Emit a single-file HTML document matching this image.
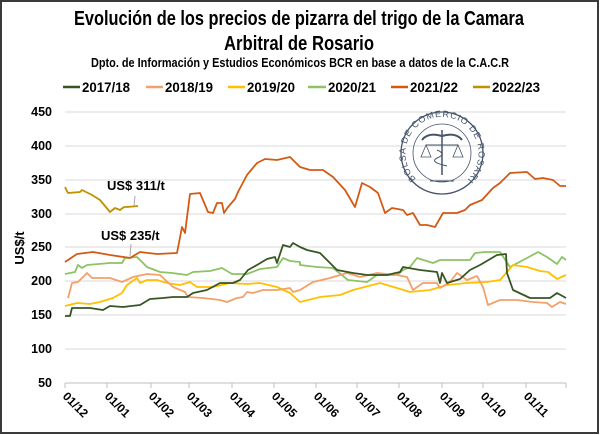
<!DOCTYPE html>
<html><head><meta charset="utf-8"><style>
html,body{margin:0;padding:0;background:#fff}
svg{display:block}
text{font-family:"Liberation Sans Narrow","Liberation Sans",sans-serif;font-weight:bold;fill:#000}
.s{font-family:"Liberation Sans",sans-serif}
</style></head><body>
<svg width="600" height="435" viewBox="0 0 600 435" xmlns="http://www.w3.org/2000/svg">
<rect x="1" y="1" width="597" height="432" fill="#fff" stroke="#3a3a3a" stroke-width="2"/>
<text x="299" y="25" font-size="20" text-anchor="middle" textLength="450" lengthAdjust="spacingAndGlyphs">Evolución de los precios de pizarra del trigo de la Camara</text>
<text x="299" y="50" font-size="20" text-anchor="middle" textLength="150" lengthAdjust="spacingAndGlyphs">Arbitral de Rosario</text>
<text x="300" y="67" font-size="12.5" text-anchor="middle" textLength="418" lengthAdjust="spacingAndGlyphs">Dpto. de Información y Estudios Económicos BCR en base a datos de la C.A.C.R</text>
<g font-size="13.5">
<line x1="63" y1="87" x2="80" y2="87" stroke="#375623" stroke-width="2.5"/><text x="82" y="92" textLength="48" lengthAdjust="spacingAndGlyphs">2017/18</text>
<line x1="146" y1="87" x2="163" y2="87" stroke="#f4a06a" stroke-width="2.5"/><text x="165" y="92" textLength="48" lengthAdjust="spacingAndGlyphs">2018/19</text>
<line x1="228" y1="87" x2="245" y2="87" stroke="#ffc000" stroke-width="2.5"/><text x="247" y="92" textLength="48" lengthAdjust="spacingAndGlyphs">2019/20</text>
<line x1="308" y1="87" x2="326" y2="87" stroke="#8cc363" stroke-width="2.5"/><text x="328" y="92" textLength="48" lengthAdjust="spacingAndGlyphs">2020/21</text>
<line x1="391" y1="87" x2="408" y2="87" stroke="#d35a15" stroke-width="2.5"/><text x="410" y="92" textLength="48" lengthAdjust="spacingAndGlyphs">2021/22</text>
<line x1="473" y1="87" x2="490" y2="87" stroke="#bf9000" stroke-width="2.5"/><text x="492" y="92" textLength="48" lengthAdjust="spacingAndGlyphs">2022/23</text>
</g>
<g stroke="#d9d9d9" stroke-width="1">
<line x1="65" y1="112" x2="566" y2="112"/><line x1="65" y1="146" x2="566" y2="146"/>
<line x1="65" y1="180" x2="566" y2="180"/><line x1="65" y1="214" x2="566" y2="214"/>
<line x1="65" y1="247" x2="566" y2="247"/><line x1="65" y1="281" x2="566" y2="281"/>
<line x1="65" y1="315" x2="566" y2="315"/><line x1="65" y1="349" x2="566" y2="349"/>
</g>
<g stroke="#bfbfbf" stroke-width="1">
<line x1="65" y1="383" x2="566" y2="383"/>
<line x1="65" y1="383" x2="65" y2="388"/><line x1="107" y1="383" x2="107" y2="388"/><line x1="151" y1="383" x2="151" y2="388"/><line x1="189" y1="383" x2="189" y2="388"/><line x1="232" y1="383" x2="232" y2="388"/><line x1="274" y1="383" x2="274" y2="388"/><line x1="316" y1="383" x2="316" y2="388"/><line x1="357" y1="383" x2="357" y2="388"/><line x1="399" y1="383" x2="399" y2="388"/><line x1="442" y1="383" x2="442" y2="388"/><line x1="483" y1="383" x2="483" y2="388"/><line x1="526" y1="383" x2="526" y2="388"/><line x1="566" y1="383" x2="566" y2="388"/>
</g>
<g font-size="12.5" text-anchor="end">
<text class="s" x="52" y="116">450</text>
<text class="s" x="52" y="150">400</text>
<text class="s" x="52" y="184">350</text>
<text class="s" x="52" y="218">300</text>
<text class="s" x="52" y="251">250</text>
<text class="s" x="52" y="285">200</text>
<text class="s" x="52" y="319">150</text>
<text class="s" x="52" y="353">100</text>
<text class="s" x="52" y="387">50</text>
</g>
<text class="s" transform="translate(24,248) rotate(-90)" font-size="13" text-anchor="middle">US$/t</text>
<g font-size="12">
<text class="s" transform="translate(62,397) rotate(45)">01/12</text>
<text class="s" transform="translate(104,397) rotate(45)">01/01</text>
<text class="s" transform="translate(148,397) rotate(45)">01/02</text>
<text class="s" transform="translate(186,397) rotate(45)">01/03</text>
<text class="s" transform="translate(229,397) rotate(45)">01/04</text>
<text class="s" transform="translate(271,397) rotate(45)">01/05</text>
<text class="s" transform="translate(313,397) rotate(45)">01/06</text>
<text class="s" transform="translate(354,397) rotate(45)">01/07</text>
<text class="s" transform="translate(396,397) rotate(45)">01/08</text>
<text class="s" transform="translate(439,397) rotate(45)">01/09</text>
<text class="s" transform="translate(480,397) rotate(45)">01/10</text>
<text class="s" transform="translate(523,397) rotate(45)">01/11</text>
</g>
<!-- logo -->
<g stroke="#44546a" fill="none">
<circle cx="442" cy="153" r="41" stroke-width="1.3"/>
<circle cx="442" cy="153" r="29" stroke-width="0.8"/>
<line x1="430" y1="181" x2="454" y2="181" stroke-width="1"/>
<line x1="442" y1="130" x2="442" y2="175" stroke-width="1.5"/>
<path d="M442 136 q-14 -4 -20 4 M442 136 q14 -4 20 4" stroke-width="2"/>
<line x1="426" y1="145" x2="458" y2="145" stroke-width="1"/>
<path d="M426 145 l-5 12 h10 z M458 145 l-5 12 h10 z" stroke-width="0.8"/>
<path d="M437 150 q10 4 0 8 q-8 4 10 8" stroke-width="1"/>
</g>
<defs><path id="arc" d="M416 179 A36.5 36.5 0 1 1 468 179"/></defs>
<text font-size="9" style="fill:#44546a;font-weight:normal;font-family:'Liberation Sans',sans-serif"><textPath href="#arc" startOffset="0" textLength="180" lengthAdjust="spacing">BOLSA DE COMERCIO DE ROSARIO</textPath></text>
<!-- series -->
<g fill="none" stroke-width="1.8" stroke-linejoin="round">
<polyline stroke="#8cc363" points="65,274 75,272 78,265 82,268 87,265 110,263 122,263 125,258 137,257 147,267 160,272 172,273 187,275 193,272 210,271 222,268 232,274 247,274 260,269 277,267 283,258 290,261 300,262 300,265 317,267 333,268 348,280 367,282 377,275 397,275 403,270 410,267 417,258 433,263 440,260 470,260 475,253 485,252 500,252 510,267 527,258 538,252 547,257 557,264 562,257 566,260"/>
<polyline stroke="#ffc000" points="65,306 77,303 90,304 100,302 113,298 122,293 127,285 137,278 140,283 147,280 157,280 167,283 180,285 190,282 197,287 213,287 230,283 247,284 260,283 277,287 290,293 300,302 320,297 340,295 353,290 380,283 397,288 410,292 430,290 447,285 467,283 487,282 500,280 513,265 527,267 540,271 548,272 557,279 566,275"/>
<polyline stroke="#f4a06a" points="68,298 72,283 78,282 87,273 92,278 110,278 122,282 133,277 147,274 160,275 173,287 185,292 188,297 203,298 220,300 227,302 237,298 243,297 247,292 253,293 263,290 277,290 290,288 293,292 300,290 313,282 330,278 347,273 360,277 377,273 397,275 407,277 413,290 423,283 437,283 440,288 450,282 457,273 467,280 477,276 483,287 488,305 500,300 517,300 533,302 547,303 552,307 560,302 566,304"/>
<polyline stroke="#375623" points="65,316 70,316 72,308 90,308 103,310 110,306 123,307 140,305 150,299 163,298 173,297 187,297 193,293 207,290 220,283 233,283 240,280 248,270 257,265 267,259 275,257 277,263 283,245 290,247 293,243 300,247 307,250 320,253 330,263 337,270 353,273 367,275 387,275 400,272 403,267 420,270 437,272 440,283 442,273 447,283 460,279 470,270 480,265 497,255 506,254 507,273 513,290 530,298 550,298 557,293 566,298"/>
<polyline stroke="#d35a15" points="65,262 77,254 93,252 110,255 130,258 140,252 157,254 177,253 182,227 185,233 190,194 200,193 208,212 213,213 217,203 222,203 224,213 228,207 235,199 238,192 247,175 257,163 265,159 277,160 290,157 300,167 310,170 323,170 333,177 345,190 355,207 362,183 370,187 378,193 385,213 392,208 403,210 407,215 413,213 420,225 427,225 435,227 443,213 457,213 465,210 470,205 482,200 493,188 500,183 510,173 527,172 535,179 543,178 553,180 560,186 566,186"/>
<polyline stroke="#bf9000" points="65,187 68,193 80,192 82,190 92,195 100,200 110,212 115,208 120,210 124,207 127,207 138,206"/>
</g>
<line x1="135" y1="196" x2="134" y2="206" stroke="#a6a6a6" stroke-width="1"/>
<line x1="131" y1="244" x2="130" y2="256" stroke="#a6a6a6" stroke-width="1"/>
<g font-size="13">
<text class="s" x="107" y="190">US$ 311/t</text>
<text class="s" x="101" y="240">US$ 235/t</text>
</g>
</svg>
</body></html>
